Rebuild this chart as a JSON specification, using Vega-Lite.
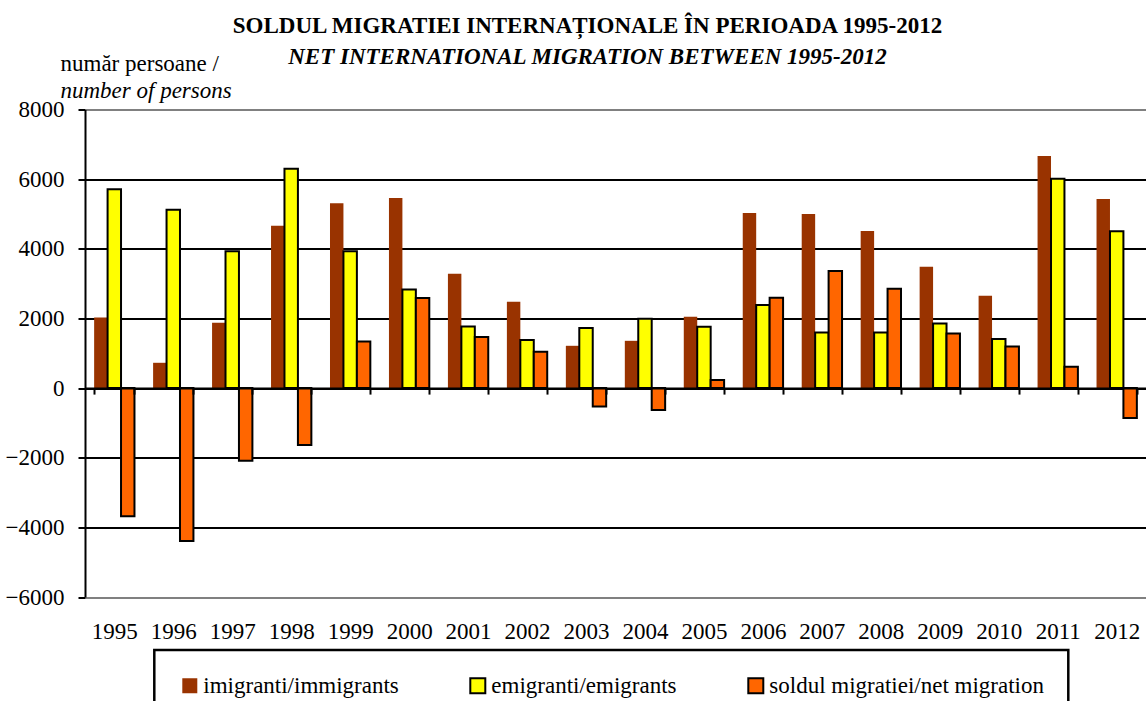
{
  "$schema": "https://vega.github.io/schema/vega-lite/v6.json",
  "width": 1061,
  "height": 487.5,
  "autosize": {"type": "none"},
  "padding": {"left": 85, "top": 109.5, "right": 0, "bottom": 104},
  "background": "white",
  "config": {
    "font": "Liberation Serif",
    "view": {"stroke": null},
    "axis": {"labelFont": "Liberation Serif", "titleFont": "Liberation Serif"},
    "legend": {"labelFont": "Liberation Serif", "titleFont": "Liberation Serif"}
  },
  "title": {
    "text": "SOLDUL MIGRATIEI INTERNAȚIONALE ÎN PERIOADA 1995-2012",
    "subtitle": "NET INTERNATIONAL MIGRATION BETWEEN 1995-2012",
    "font": "Liberation Serif",
    "fontSize": 23,
    "fontWeight": "bold",
    "color": "black",
    "subtitleFont": "Liberation Serif",
    "subtitleFontSize": 23,
    "subtitleFontWeight": "bold",
    "subtitleFontStyle": "italic",
    "subtitleColor": "black",
    "subtitlePadding": 8,
    "anchor": "middle",
    "frame": "group",
    "dx": -28,
    "offset": -17
  },
  "data": {
    "values": [
      {"year": "1995", "series": "imigranti/immigrants", "value": 2030},
      {"year": "1995", "series": "emigranti/emigrants", "value": 5712},
      {"year": "1995", "series": "soldul migratiei/net migration", "value": -3682},
      {"year": "1996", "series": "imigranti/immigrants", "value": 726},
      {"year": "1996", "series": "emigranti/emigrants", "value": 5118},
      {"year": "1996", "series": "soldul migratiei/net migration", "value": -4392},
      {"year": "1997", "series": "imigranti/immigrants", "value": 1874},
      {"year": "1997", "series": "emigranti/emigrants", "value": 3932},
      {"year": "1997", "series": "soldul migratiei/net migration", "value": -2087},
      {"year": "1998", "series": "imigranti/immigrants", "value": 4658},
      {"year": "1998", "series": "emigranti/emigrants", "value": 6295},
      {"year": "1998", "series": "soldul migratiei/net migration", "value": -1637},
      {"year": "1999", "series": "imigranti/immigrants", "value": 5310},
      {"year": "1999", "series": "emigranti/emigrants", "value": 3932},
      {"year": "1999", "series": "soldul migratiei/net migration", "value": 1338},
      {"year": "2000", "series": "imigranti/immigrants", "value": 5462},
      {"year": "2000", "series": "emigranti/emigrants", "value": 2831},
      {"year": "2000", "series": "soldul migratiei/net migration", "value": 2584},
      {"year": "2001", "series": "imigranti/immigrants", "value": 3281},
      {"year": "2001", "series": "emigranti/emigrants", "value": 1769},
      {"year": "2001", "series": "soldul migratiei/net migration", "value": 1464},
      {"year": "2002", "series": "imigranti/immigrants", "value": 2477},
      {"year": "2002", "series": "emigranti/emigrants", "value": 1378},
      {"year": "2002", "series": "soldul migratiei/net migration", "value": 1043},
      {"year": "2003", "series": "imigranti/immigrants", "value": 1214},
      {"year": "2003", "series": "emigranti/emigrants", "value": 1722},
      {"year": "2003", "series": "soldul migratiei/net migration", "value": -528},
      {"year": "2004", "series": "imigranti/immigrants", "value": 1357},
      {"year": "2004", "series": "emigranti/emigrants", "value": 1990},
      {"year": "2004", "series": "soldul migratiei/net migration", "value": -633},
      {"year": "2005", "series": "imigranti/immigrants", "value": 2046},
      {"year": "2005", "series": "emigranti/emigrants", "value": 1760},
      {"year": "2005", "series": "soldul migratiei/net migration", "value": 230},
      {"year": "2006", "series": "imigranti/immigrants", "value": 5031},
      {"year": "2006", "series": "emigranti/emigrants", "value": 2383},
      {"year": "2006", "series": "soldul migratiei/net migration", "value": 2592},
      {"year": "2007", "series": "imigranti/immigrants", "value": 5002},
      {"year": "2007", "series": "emigranti/emigrants", "value": 1596},
      {"year": "2007", "series": "soldul migratiei/net migration", "value": 3359},
      {"year": "2008", "series": "imigranti/immigrants", "value": 4514},
      {"year": "2008", "series": "emigranti/emigrants", "value": 1596},
      {"year": "2008", "series": "soldul migratiei/net migration", "value": 2851},
      {"year": "2009", "series": "imigranti/immigrants", "value": 3481},
      {"year": "2009", "series": "emigranti/emigrants", "value": 1855},
      {"year": "2009", "series": "soldul migratiei/net migration", "value": 1568},
      {"year": "2010", "series": "imigranti/immigrants", "value": 2649},
      {"year": "2010", "series": "emigranti/emigrants", "value": 1407},
      {"year": "2010", "series": "soldul migratiei/net migration", "value": 1195},
      {"year": "2011", "series": "imigranti/immigrants", "value": 6667},
      {"year": "2011", "series": "emigranti/emigrants", "value": 6008},
      {"year": "2011", "series": "soldul migratiei/net migration", "value": 612},
      {"year": "2012", "series": "imigranti/immigrants", "value": 5433},
      {"year": "2012", "series": "emigranti/emigrants", "value": 4507},
      {"year": "2012", "series": "soldul migratiei/net migration", "value": -862}
    ]
  },
  "layer": [
    {
      "mark": {"type": "bar", "strokeWidth": 2},
      "encoding": {
        "x": {
          "field": "year",
          "type": "nominal",
          "scale": {"paddingInner": 0.316, "paddingOuter": 0.155},
          "axis": {
            "orient": "bottom",
            "offset": -208.9,
            "title": null,
            "grid": false,
            "domain": true,
            "domainColor": "black",
            "domainWidth": 2,
            "ticks": true,
            "tickBand": "extent",
            "tickColor": "black",
            "tickWidth": 2,
            "tickSize": 6,
            "labelAngle": 0,
            "labelFont": "Liberation Serif",
            "labelFontSize": 23,
            "labelColor": "black",
            "labelPadding": 226,
            "labelBaseline": "top",
            "zindex": 1
          }
        },
        "xOffset": {
          "field": "series",
          "type": "nominal",
          "sort": ["imigranti/immigrants", "emigranti/emigrants", "soldul migratiei/net migration"],
          "scale": {"paddingInner": 0, "paddingOuter": 0}
        },
        "y": {
          "field": "value",
          "type": "quantitative",
          "scale": {"domain": [-6000, 8000], "nice": false},
          "axis": {
            "values": [-6000, -4000, -2000, 0, 2000, 4000, 6000, 8000],
            "format": "d",
            "grid": true,
            "gridColor": {"condition": {"test": "datum.value == 8000 || datum.value == -6000", "value": "#808080"}, "value": "black"},
            "gridWidth": 2,
            "domainColor": "black",
            "domainWidth": 2,
            "tickColor": "black",
            "tickWidth": 2,
            "tickSize": 7,
            "labelFont": "Liberation Serif",
            "labelFontSize": 23,
            "labelColor": "black",
            "labelPadding": 14,
            "title": "număr persoane /",
            "titleFont": "Liberation Serif",
            "titleFontSize": 23,
            "titleFontWeight": "normal",
            "titleColor": "black",
            "titleAngle": 0,
            "titleAlign": "left",
            "titleBaseline": "alphabetic",
            "titleX": -25,
            "titleY": -39.5
          }
        },
        "color": {
          "field": "series",
          "type": "nominal",
          "scale": {
            "domain": ["imigranti/immigrants", "emigranti/emigrants", "soldul migratiei/net migration"],
            "range": ["#993300", "#FFFF00", "#FF6600"]
          },
          "legend": {
            "orient": "none",
            "legendX": 69.3,
            "legendY": 540.5,
            "direction": "horizontal",
            "title": null,
            "symbolType": "square",
            "symbolSize": 225,
            "symbolStrokeWidth": 2,
            "labelFont": "Liberation Serif",
            "labelFontSize": 23,
            "labelColor": "black",
            "labelOffset": 2,
            "labelLimit": 500,
            "columnPadding": 67,
            "strokeColor": "black",
            "fillColor": "white",
            "padding": 24,
            "encode": {"legend": {"update": {"strokeWidth": {"value": 2.5}}}}
          }
        },
        "stroke": {
          "field": "series",
          "type": "nominal",
          "scale": {
            "domain": ["imigranti/immigrants", "emigranti/emigrants", "soldul migratiei/net migration"],
            "range": ["transparent", "#000000", "#000000"]
          },
          "legend": {
            "orient": "none",
            "legendX": 69.3,
            "legendY": 540.5,
            "direction": "horizontal",
            "title": null,
            "symbolType": "square",
            "symbolSize": 225,
            "symbolStrokeWidth": 2,
            "labelFont": "Liberation Serif",
            "labelFontSize": 23,
            "labelColor": "black",
            "labelOffset": 2,
            "labelLimit": 500,
            "columnPadding": 67,
            "strokeColor": "black",
            "fillColor": "white",
            "padding": 24,
            "encode": {"legend": {"update": {"strokeWidth": {"value": 2.5}}}}
          }
        }
      }
    },
    {
      "mark": {"type": "bar", "opacity": 0},
      "encoding": {
        "x": {
          "field": "year",
          "type": "nominal",
          "axis": {
            "orient": "top",
            "labels": false,
            "ticks": false,
            "domain": false,
            "grid": false,
            "title": "number of persons",
            "titleFont": "Liberation Serif",
            "titleFontSize": 23,
            "titleFontWeight": "normal",
            "titleFontStyle": "italic",
            "titleColor": "black",
            "titleAngle": 0,
            "titleAlign": "left",
            "titleBaseline": "alphabetic",
            "titleX": -25,
            "titleY": -12.5
          }
        }
      }
    }
  ]
}
